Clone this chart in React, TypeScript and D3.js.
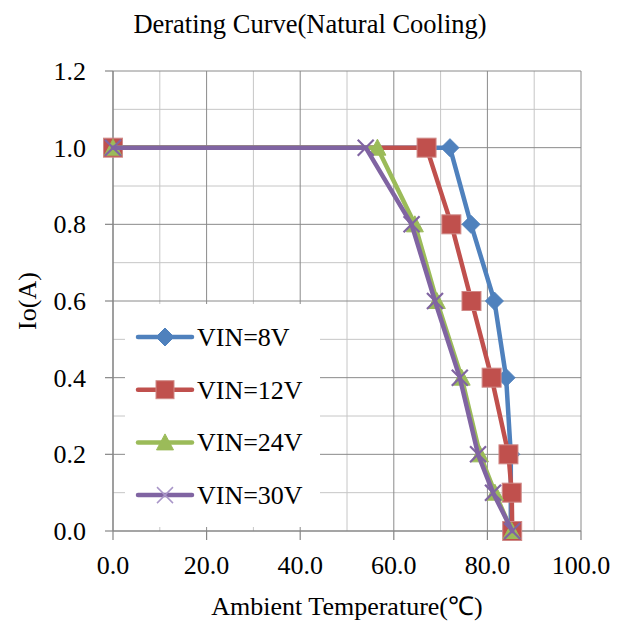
import React from "react";
import * as d3 from "d3";

const seriesNames = ["VIN=8V", "VIN=12V", "VIN=24V", "VIN=30V"];
const seriesColors = ["#4F81BD", "#C0504D", "#9BBB59", "#8064A2"];
const seriesMarkers = ["diamond", "square", "triangle", "x"];

const temp8V = [0, 72, 76.5, 81.5, 84, 85, 85];
const io8V = [1.0, 1.0, 0.8, 0.6, 0.4, 0.2, 0.0];
const temp12V = [0, 67, 72.3, 76.6, 80.9, 84.5, 85.2, 85.3];
const io12V = [1.0, 1.0, 0.8, 0.6, 0.4, 0.2, 0.1, 0.0];
const temp24V = [0, 56.5, 64.5, 69.2, 74.5, 78.4, 81.6, 85.2];
const io24V = [1.0, 1.0, 0.8, 0.6, 0.4, 0.2, 0.1, 0.0];
const temp30V = [0, 54, 63.8, 68.8, 74.1, 78, 81.2, 85.3];
const io30V = [1.0, 1.0, 0.8, 0.6, 0.4, 0.2, 0.1, 0.0];

const xTicks = [0, 20, 40, 60, 80, 100];
const xMinor = [10, 30, 50, 70, 90];
const yTicks = [0, 0.2, 0.4, 0.6, 0.8, 1.0, 1.2];
const yMinor = [0.1, 0.3, 0.5, 0.7, 0.9, 1.1];

const title = "Derating Curve(Natural Cooling)";
const xTitle = "Ambient Temperature(\u2103)";
const yTitle = "Io(A)";

const FONT = "'Liberation Serif', 'Times New Roman', serif";

function Marker({ type, color, cx, cy, legend }: any) {
  if (type === "diamond") {
    const r = 9;
    return (
      <path
        d={`M${cx},${cy - r}L${cx + r},${cy}L${cx},${cy + r}L${cx - r},${cy}Z`}
        fill={color}
        stroke={color}
        strokeWidth={1}
      />
    );
  }
  if (type === "square") {
    const s = legend ? 18 : 19;
    return (
      <rect
        x={cx - s / 2}
        y={cy - s / 2}
        width={s}
        height={s}
        fill={color}
        stroke="#d08a88"
        strokeWidth={1}
      />
    );
  }
  if (type === "triangle") {
    const w = 17;
    const h = 15;
    return (
      <path
        d={`M${cx},${cy - h / 2 - 1}L${cx + w / 2},${cy + h / 2}L${cx - w / 2},${cy + h / 2}Z`}
        fill={color}
        stroke={color}
        strokeWidth={1}
      />
    );
  }
  const r = 8;
  return (
    <path
      d={`M${cx - r},${cy - r}L${cx + r},${cy + r}M${cx - r},${cy + r}L${cx + r},${cy - r}`}
      stroke={legend ? "#a996c8" : color}
      strokeWidth={legend ? 1.5 : 2.2}
      fill="none"
    />
  );
}

export default function App() {
  const x = d3.scaleLinear().domain([0, 100]).range([113, 581]);
  const y = d3.scaleLinear().domain([0, 1.2]).range([531, 71]);

  const series = [
    { t: temp8V, v: io8V },
    { t: temp12V, v: io12V },
    { t: temp24V, v: io24V },
    { t: temp30V, v: io30V },
  ];

  const line = d3
    .line<[number, number]>()
    .x((d) => x(d[0]))
    .y((d) => y(d[1]));

  const majorColor = "#8a8a8a";
  const minorColor = "#c6c6c6";

  const legendX = 125;
  const legendY = 304;
  const legendW = 195;
  const legendH = 223;
  const legendRow0 = 337;
  const legendStep = 52.7;

  return (
    <svg
      width={627}
      height={621}
      style={{ position: "absolute", left: 0, top: 0, background: "#fff" }}
      fontFamily={FONT}
    >
      <rect x={0} y={0} width={627} height={621} fill="#fff" />
      {xMinor.map((t) => (
        <line key={"xm" + t} x1={x(t)} x2={x(t)} y1={y(0)} y2={y(1.2)} stroke={minorColor} strokeWidth={1} />
      ))}
      {yMinor.map((t) => (
        <line key={"ym" + t} x1={x(0)} x2={x(100)} y1={y(t)} y2={y(t)} stroke={minorColor} strokeWidth={1} />
      ))}
      {xTicks.map((t) => (
        <line key={"xg" + t} x1={x(t)} x2={x(t)} y1={y(0)} y2={y(1.2)} stroke={majorColor} strokeWidth={1} />
      ))}
      {yTicks.map((t) => (
        <line key={"yg" + t} x1={x(0)} x2={x(100)} y1={y(t)} y2={y(t)} stroke={majorColor} strokeWidth={1} />
      ))}
      <line x1={x(0)} x2={x(100)} y1={y(0)} y2={y(0)} stroke="#868686" strokeWidth={1.2} />
      <line x1={x(0)} x2={x(0)} y1={y(0)} y2={y(1.2)} stroke="#868686" strokeWidth={1.2} />
      {xTicks.map((t) => (
        <line key={"xt" + t} x1={x(t)} x2={x(t)} y1={y(0)} y2={y(0) + 9} stroke="#868686" strokeWidth={1.2} />
      ))}
      {yTicks.map((t) => (
        <line key={"yt" + t} x1={x(0) - 8} x2={x(0)} y1={y(t)} y2={y(t)} stroke="#868686" strokeWidth={1.2} />
      ))}
      {xTicks.map((t) => (
        <text key={"xl" + t} x={x(t)} y={y(0) + 42.5} fontSize={26} textAnchor="middle" fill="#000">
          {d3.format(".1f")(t)}
        </text>
      ))}
      {yTicks.map((t) => (
        <text key={"yl" + t} x={86} y={y(t) + 9} fontSize={26} textAnchor="end" fill="#000">
          {d3.format(".1f")(t)}
        </text>
      ))}
      {series.map((s, i) => {
        const pts: [number, number][] = s.t.map((tv, j) => [tv, s.v[j]]);
        return (
          <g key={"s" + i}>
            <path
              d={line(pts) || ""}
              fill="none"
              stroke={seriesColors[i]}
              strokeWidth={4.5}
              strokeLinejoin="round"
              strokeLinecap="round"
            />
            {pts.map((p, j) => (
              <Marker key={j} type={seriesMarkers[i]} color={seriesColors[i]} cx={x(p[0])} cy={y(p[1])} />
            ))}
          </g>
        );
      })}
      <rect x={legendX} y={legendY} width={legendW} height={legendH} fill="#fff" />
      {seriesNames.map((n, i) => {
        const cy = legendRow0 + i * legendStep;
        return (
          <g key={"lg" + i}>
            <line x1={138} x2={192} y1={cy} y2={cy} stroke={seriesColors[i]} strokeWidth={4.5} strokeLinecap="round" />
            <Marker type={seriesMarkers[i]} color={seriesColors[i]} cx={165} cy={cy} legend />
            <text x={197} y={cy + 9} fontSize={26} fill="#000">
              {n}
            </text>
          </g>
        );
      })}
      <text x={310} y={33} fontSize={26.5} textAnchor="middle" fill="#000">
        {title}
      </text>
      <text x={(x(0) + x(100)) / 2} y={615} fontSize={26} textAnchor="middle" fill="#000">
        {xTitle}
      </text>
      <text
        transform={`translate(36, ${(y(0) + y(1.2)) / 2}) rotate(-90)`}
        x={0}
        y={0}
        fontSize={26}
        textAnchor="middle"
        fill="#000"
      >
        {yTitle}
      </text>
    </svg>
  );
}
